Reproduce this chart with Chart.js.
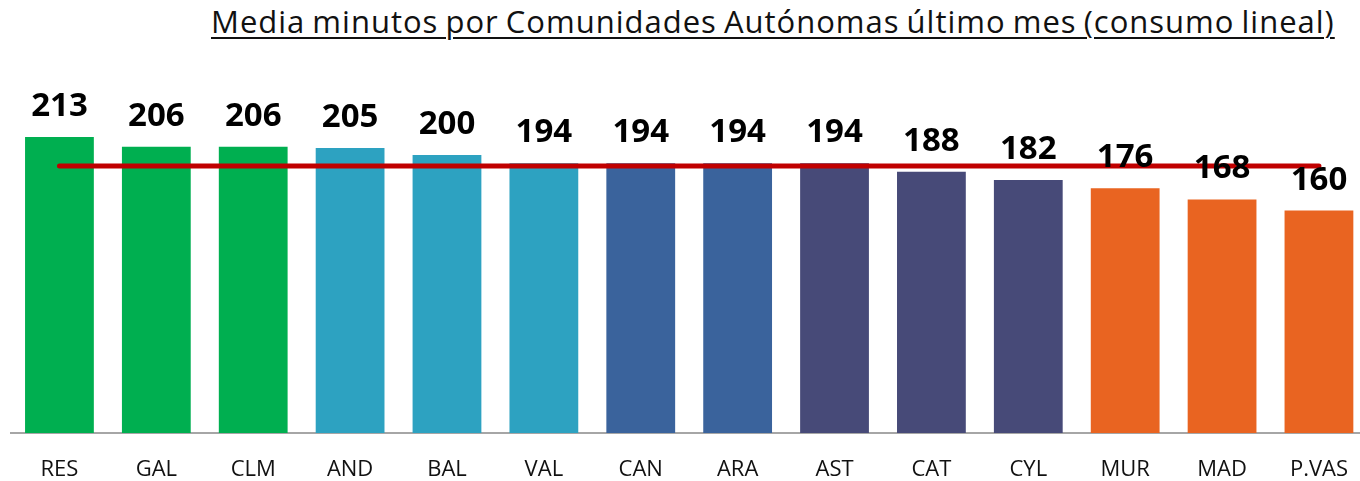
<!DOCTYPE html>
<html>
<head>
    <meta charset="utf-8">
    <script src="https://cdn.jsdelivr.net/npm/chart.js"></script>
    <title>Media minutos por Comunidades Autónomas</title>
    <style type="text/css">
        html, body {
            margin: 0;
            padding: 0;
            background: #ffffff;
            overflow: hidden;
        }

        .titulo {
            position: absolute;
            top: 0px;
            left: 211px;
            font-family: "Open Sans", sans-serif;
            font-size: 31px;
            line-height: normal;
            color: #111;
            text-decoration: underline;
            text-decoration-thickness: 2px;
            text-underline-offset: 4px;
            white-space: nowrap;
            letter-spacing: 1px;
            word-spacing: -2px;
        }

        .grafico {
            position: absolute;
            top: 0;
            left: 0;
            width: 1372px;
            height: 481px;
        }
    </style>
</head>
<body>
    <div class="titulo" id="titulo">Media minutos por Comunidades Autónomas último mes (consumo lineal)</div>
    <div class="grafico">
        <canvas id="myChart"></canvas>
    </div>

    <script>
        // datos
        var comunidades = ['RES', 'GAL', 'CLM', 'AND', 'BAL', 'VAL', 'CAN', 'ARA', 'AST', 'CAT', 'CYL', 'MUR', 'MAD', 'P.VAS'];
        var minutos = [213, 206, 206, 205, 200, 194, 194, 194, 194, 188, 182, 176, 168, 160];
        var media = [192, 192, 192, 192, 192, 192, 192, 192, 192, 192, 192, 192, 192, 192];
        var colores = ['#00AF50', '#00AF50', '#00AF50', '#2DA2C1', '#2DA2C1', '#2DA2C1', '#3A639C',
            '#3A639C', '#474A78', '#474A78', '#474A78', '#E96421', '#E96421', '#E96421'];

        // etiquetas de valor encima de cada barra
        var etiquetas = {
            id: 'etiquetas',
            afterDatasetsDraw: function (chart) {
                var ctx = chart.ctx;
                var meta = chart.getDatasetMeta(1);
                ctx.save();
                ctx.font = 'bold 33px "Open Sans", sans-serif';
                ctx.fillStyle = '#000';
                ctx.textAlign = 'center';
                ctx.textBaseline = 'alphabetic';
                meta.data.forEach(function (bar, i) {
                    ctx.fillText(minutos[i], bar.x, bar.y - 21);
                });
                ctx.restore();
            }
        };

        var ctx = document.getElementById('myChart').getContext('2d');
        var myChart = new Chart(ctx, {
            data: {
                labels: comunidades,
                datasets: [{
                    type: 'line',
                    label: 'Media',
                    data: media,
                    borderColor: '#C00000',
                    borderWidth: 5,
                    borderCapStyle: 'round',
                    pointRadius: 0,
                    order: 0
                }, {
                    type: 'bar',
                    label: 'Minutos',
                    data: minutos,
                    backgroundColor: colores,
                    barPercentage: 0.71,
                    categoryPercentage: 1,
                    order: 1
                }]
            },
            options: {
                responsive: true,
                maintainAspectRatio: false,
                animation: false,
                layout: {
                    padding: { left: 11, right: 0, top: 16, bottom: 0 }
                },
                plugins: {
                    legend: { display: false },
                    tooltip: { enabled: false }
                },
                scales: {
                    x: {
                        grid: { display: false, drawTicks: false },
                        border: { display: true, color: '#A6A6A6', width: 2 },
                        ticks: {
                            padding: 24,
                            color: '#111',
                            font: { family: 'Open Sans', size: 22 }
                        },
                        afterFit: function (scale) {
                            scale.height = 48; // eje en y=433
                        }
                    },
                    y: {
                        display: false,
                        min: 0,
                        max: 300
                    }
                }
            },
            plugins: [etiquetas]
        });
    </script>
</body>
</html>
